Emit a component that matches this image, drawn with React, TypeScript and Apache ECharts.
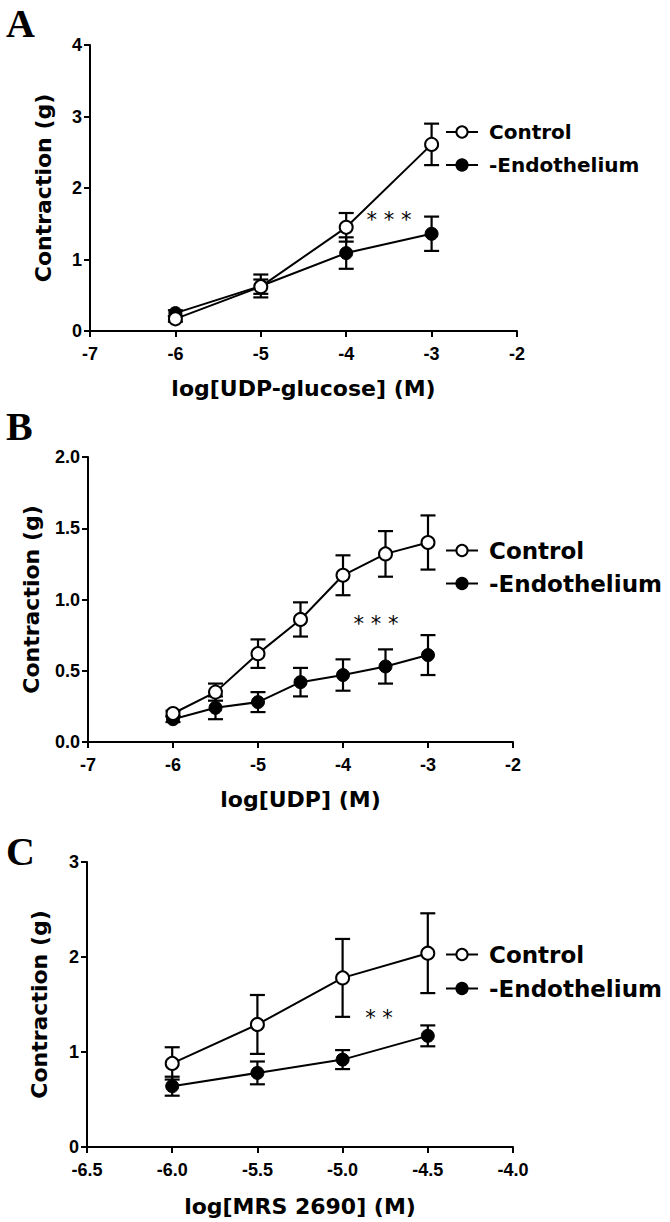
import React, { useEffect, useRef } from "react";
import * as echarts from "echarts";

// Panel A: UDP-glucose
const xA = [-6, -5, -4, -3];
const ctrlA = [0.17, 0.62, 1.45, 2.61];
const ctrlSemA = [0.04, 0.1, 0.2, 0.29];
const endoA = [0.25, 0.63, 1.09, 1.36];
const endoSemA = [0.04, 0.16, 0.22, 0.24];

// Panel B: UDP
const xB = [-6, -5.5, -5, -4.5, -4, -3.5, -3];
const ctrlB = [0.2, 0.35, 0.62, 0.86, 1.17, 1.32, 1.4];
const ctrlSemB = [0.02, 0.06, 0.1, 0.12, 0.14, 0.16, 0.19];
const endoB = [0.16, 0.24, 0.28, 0.42, 0.47, 0.53, 0.61];
const endoSemB = [0.02, 0.08, 0.07, 0.1, 0.11, 0.12, 0.14];

// Panel C: MRS 2690
const xC = [-6.0, -5.5, -5.0, -4.5];
const ctrlC = [0.88, 1.29, 1.78, 2.04];
const ctrlSemC = [0.17, 0.31, 0.41, 0.42];
const endoC = [0.64, 0.78, 0.92, 1.17];
const endoSemC = [0.1, 0.12, 0.1, 0.11];

const seriesNames = ["Control", "-Endothelium"];
const panelLetters = ["A", "B", "C"];
const xTitles = ["log[UDP-glucose] (M)", "log[UDP] (M)", "log[MRS 2690] (M)"];
const yTitle = "Contraction (g)";
const stars = ["* * *", "* * *", "* *"];

const SANS = "'DejaVu Sans', Verdana, sans-serif";
const ARIAL = "'Liberation Sans', Arial, sans-serif";
const SERIF = "'Liberation Serif', 'Times New Roman', serif";

const panels = [
  {
    x: xA, ctrl: ctrlA, ctrlSem: ctrlSemA, endo: endoA, endoSem: endoSemA,
    xMin: -7, xMax: -2, xInt: 1, xDec: 0, yMax: 4, yInt: 1, yDec: 0,
    grid: { left: 90, top: 45, width: 427, height: 286 },
    yNameGap: 36, xNameGap: 46, legendTop: 117, legendFont: 20, legendGap: 13,
    letterY: 23, starPos: [389, 220], starFont: 21,
  },
  {
    x: xB, ctrl: ctrlB, ctrlSem: ctrlSemB, endo: endoB, endoSem: endoSemB,
    xMin: -7, xMax: -2, xInt: 1, xDec: 0, yMax: 2, yInt: 0.5, yDec: 1,
    grid: { left: 88, top: 457, width: 425, height: 285 },
    yNameGap: 46, xNameGap: 46, legendTop: 534, legendFont: 23, legendGap: 10,
    letterY: 426, starPos: [376, 624], starFont: 21,
  },
  {
    x: xC, ctrl: ctrlC, ctrlSem: ctrlSemC, endo: endoC, endoSem: endoSemC,
    xMin: -6.5, xMax: -4, xInt: 0.5, xDec: 1, yMax: 3, yInt: 1, yDec: 0,
    grid: { left: 87, top: 862, width: 426, height: 285 },
    yNameGap: 37, xNameGap: 48, legendTop: 938, legendFont: 23, legendGap: 11,
    letterY: 851, starPos: [379, 1018], starFont: 21,
  },
];

function errorRender(params: any, api: any) {
  const x = api.value(0);
  const y = api.value(1);
  const e = api.value(2);
  const top = api.coord([x, y + e]);
  const bot = api.coord([x, y - e]);
  const hw = 7.5;
  const style = { stroke: "#000", lineWidth: 2.2 };
  return {
    type: "group",
    children: [
      { type: "line", shape: { x1: top[0], y1: top[1], x2: bot[0], y2: bot[1] }, style },
      { type: "line", shape: { x1: top[0] - hw, y1: top[1], x2: top[0] + hw, y2: top[1] }, style },
      { type: "line", shape: { x1: bot[0] - hw, y1: bot[1], x2: bot[0] + hw, y2: bot[1] }, style },
    ],
  };
}

export default function App() {
  const ref = useRef<HTMLDivElement>(null);
  useEffect(() => {
    if (!ref.current) return;
    const chart = echarts.init(ref.current, undefined, { renderer: "svg" });
    const grids: any[] = [];
    const xAxes: any[] = [];
    const yAxes: any[] = [];
    const series: any[] = [];
    const legends: any[] = [];
    const graphics: any[] = [];

    panels.forEach((p, i) => {
      grids.push({ ...p.grid, containLabel: false });
      const axisLine = { show: true, lineStyle: { color: "#000", width: 2 } };
      const axisTick = { show: true, length: 6, lineStyle: { color: "#000", width: 2 } };
      xAxes.push({
        type: "value", gridIndex: i, min: p.xMin, max: p.xMax, interval: p.xInt,
        axisLine, axisTick, splitLine: { show: false },
        axisLabel: {
          color: "#000", fontFamily: ARIAL, fontWeight: "bold", fontSize: 18, margin: 14,
          formatter: (v: number) => v.toFixed(p.xDec),
        },
        name: xTitles[i], nameLocation: "middle", nameGap: p.xNameGap,
        nameTextStyle: { color: "#000", fontFamily: SANS, fontWeight: "bold", fontSize: 22 },
      });
      yAxes.push({
        type: "value", gridIndex: i, min: 0, max: p.yMax, interval: p.yInt,
        axisLine, axisTick, splitLine: { show: false },
        axisLabel: {
          color: "#000", fontFamily: ARIAL, fontWeight: "bold", fontSize: 18, margin: 8,
          formatter: (v: number) => v.toFixed(p.yDec),
        },
        name: yTitle, nameLocation: "middle", nameGap: p.yNameGap,
        nameTextStyle: { color: "#000", fontFamily: SANS, fontWeight: "bold", fontSize: 22 },
      });
      const ctrlErr = p.x.map((xv, k) => [xv, p.ctrl[k], p.ctrlSem[k]]);
      const endoErr = p.x.map((xv, k) => [xv, p.endo[k], p.endoSem[k]]);
      series.push({
        type: "custom", xAxisIndex: i, yAxisIndex: i, renderItem: errorRender,
        data: endoErr, encode: { x: 0, y: 1 }, z: 2, silent: true,
      });
      series.push({
        type: "custom", xAxisIndex: i, yAxisIndex: i, renderItem: errorRender,
        data: ctrlErr, encode: { x: 0, y: 1 }, z: 2, silent: true,
      });
      series.push({
        name: seriesNames[1], type: "line", xAxisIndex: i, yAxisIndex: i,
        data: p.x.map((xv, k) => [xv, p.endo[k]]),
        symbol: "circle", symbolSize: 13,
        lineStyle: { color: "#000", width: 2 },
        itemStyle: { color: "#000", borderColor: "#000", borderWidth: 1 },
        z: 3,
      });
      series.push({
        name: seriesNames[0], type: "line", xAxisIndex: i, yAxisIndex: i,
        data: p.x.map((xv, k) => [xv, p.ctrl[k]]),
        symbol: "circle", symbolSize: 13,
        lineStyle: { color: "#000", width: 2 },
        itemStyle: { color: "#fff", borderColor: "#000", borderWidth: 2 },
        z: 4,
      });
      legends.push({
        data: seriesNames, orient: "vertical", left: 440, top: p.legendTop,
        itemWidth: 32, itemHeight: 14, itemGap: p.legendGap, selectedMode: false,
        textStyle: {
          color: "#000", fontFamily: SANS, fontWeight: "bold", fontSize: p.legendFont,
          padding: [0, 0, 0, 6],
        },
      });
      graphics.push({
        type: "text", left: 6, top: p.letterY - 20,
        style: { text: panelLetters[i], fill: "#000", font: `bold 40px ${SERIF}` },
      });
      graphics.push({
        type: "text", x: p.starPos[0], y: p.starPos[1],
        style: {
          text: stars[i], fill: "#000", font: `${p.starFont}px ${SANS}`,
          textAlign: "center", textVerticalAlign: "middle",
        },
      });
    });

    chart.setOption({
      animation: false,
      backgroundColor: "#fff",
      grid: grids,
      xAxis: xAxes,
      yAxis: yAxes,
      legend: legends,
      series,
      graphic: graphics,
    });
    return () => chart.dispose();
  }, []);
  return (
    <div
      ref={ref}
      style={{ position: "absolute", left: 0, top: 0, width: 670, height: 1222, background: "#fff" }}
    />
  );
}
